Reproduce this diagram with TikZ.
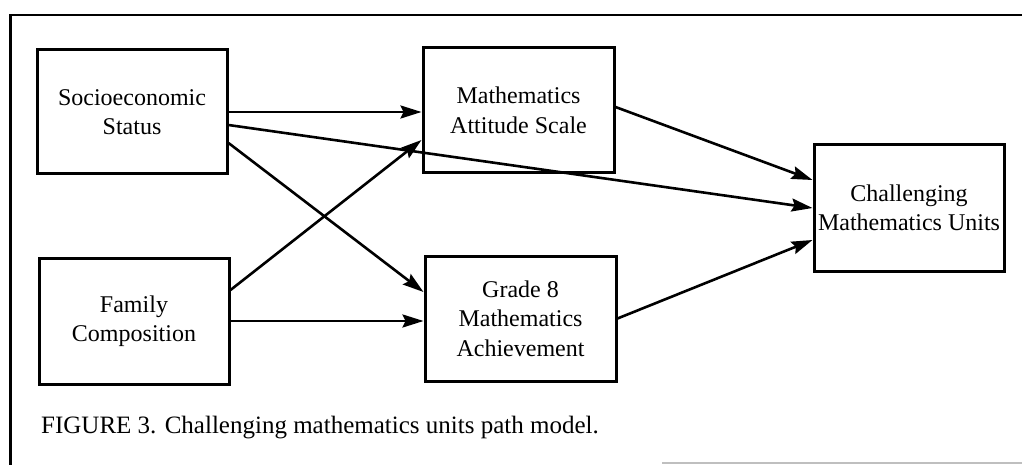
\documentclass[tikz,border=0pt]{standalone}
\usepackage{fontspec}
\setmainfont{Liberation Serif}
\usetikzlibrary{arrows.meta}
\tikzset{
  box/.style={draw=black, line width=3pt, align=center, inner sep=0pt,
    font=\fontsize{24}{29.5}\selectfont},
  path/.style={line width=2.6pt, -{Stealth[length=21pt,width=13pt,inset=3pt]}},
  frame/.style={line width=2.4pt}
}
\begin{document}
\begin{tikzpicture}[x=1pt,y=-1pt]
\useasboundingbox (0,0) rectangle (1022,465);
% frame
\coordinate (fbl) at (10.5,465);
\coordinate (ftl) at (10.5,15);
\coordinate (ftr) at (1022,15);
\draw[frame] (fbl) -- (ftl) -- (ftr);
\coordinate (gb1) at (662,463);
\coordinate (gb2) at (1022,463);
\draw[line width=1.2pt, black!25] (gb1) -- (gb2);
% boxes
\node[box, minimum width=190pt, minimum height=124pt] (ses) at (132,112) {Socioeconomic\\Status};
\node[box, minimum width=190pt, minimum height=126pt] (fam) at (134,321) {Family\\Composition};
\node[box, minimum width=191pt, minimum height=125pt] (mas) at (518.5,110.5) {Mathematics\\Attitude Scale};
\node[box, minimum width=191pt, minimum height=125pt] (g8) at (520.5,318.5) {Grade 8\\Mathematics\\Achievement};
\node[box, minimum width=190pt, minimum height=126pt] (ch) at (909,208) {Challenging\\Mathematics Units};
% paths
\draw[path] (ses.east) -- (ses.east -| mas.west);
\draw[path] ([yshift=-13pt]ses.east) -- (ch.west);
\draw[path] ([yshift=-31pt]ses.east) -- ([yshift=26.5pt]g8.west);
\draw[path] ([yshift=31pt]fam.east) -- ([yshift=-29.5pt]mas.west);
\draw[path] (fam.east) -- (fam.east -| g8.west);
\draw[path] ([yshift=3.5pt]mas.east) -- ([yshift=28pt]ch.west);
\draw[path] (g8.east) -- ([yshift=-32pt]ch.west);
% caption
\node[anchor=base west, inner sep=0pt, font=\fontsize{25}{30}\selectfont] (cap) at (41,433)
  {FIGURE 3. Challenging mathematics units path model.};
\end{tikzpicture}
\end{document}
